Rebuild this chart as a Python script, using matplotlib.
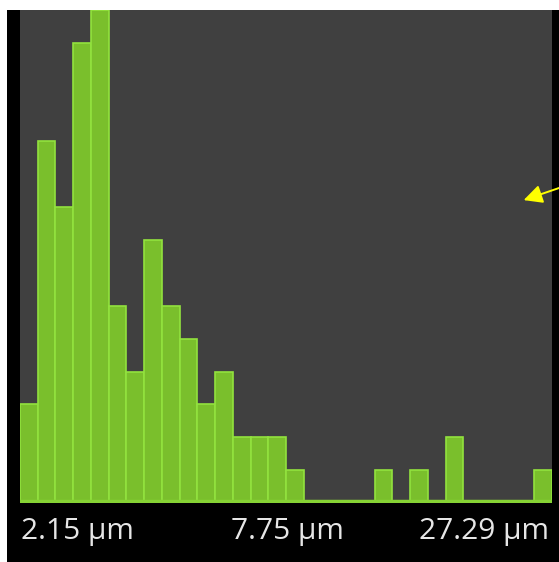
import matplotlib.pyplot as plt
import matplotlib.patches as mpatches
import numpy as np

# histogram counts per bin (30 bins)
counts = [3, 11, 9, 14, 15, 6, 4, 8, 6, 5,
          3, 4, 2, 2, 2, 1, 0, 0, 0, 0,
          1, 0, 1, 0, 2, 0, 0, 0, 0, 1]
tick_labels = ["2.15 µm", "7.75 µm", "27.29 µm"]

W, H = 559, 562
fig = plt.figure(figsize=(W / 100, H / 100), dpi=100)
fig.patch.set_facecolor('black')

# white strips on top and left edge
fig.patches.append(mpatches.Rectangle((0, 1 - 10 / H), 1, 10 / H, transform=fig.transFigure,
                                      facecolor='white', edgecolor='none', zorder=0))
fig.patches.append(mpatches.Rectangle((0, 0), 7 / W, 1, transform=fig.transFigure,
                                      facecolor='white', edgecolor='none', zorder=0))

ax = fig.add_axes([20 / W, (H - 503) / H, 532 / W, 493 / H])
ax.set_facecolor('#404040')

x = np.arange(len(counts))
ax.bar(x, counts, width=1.0, align='edge', color='#7abf2c', edgecolor='#92e23e', linewidth=1.2)
# thin baseline where bins are empty
ax.axhline(0.05, color='#86d234', linewidth=2.5, zorder=1)

ax.set_xlim(0, len(counts))
ax.set_ylim(0, 15)
ax.set_xticks([])
ax.set_yticks([])
for s in ax.spines.values():
    s.set_visible(False)

# bottom labels
label_x = [77, 287, 484]
for lx, t in zip(label_x, tick_labels):
    fig.text(lx / W, 1 - 531 / H, t, color='#e6e6e6', fontsize=21.5, family='Open Sans',
             ha='center', va='center')

# yellow arrow
fig.add_artist(mpatches.FancyArrowPatch((562 / W, 1 - 187 / H), (521 / W, 1 - 201 / H),
                                        transform=fig.transFigure, arrowstyle='-|>',
                                        mutation_scale=28, color='#ffff00', linewidth=1.4))

fig.savefig('out.png', dpi=100, facecolor=fig.get_facecolor())
